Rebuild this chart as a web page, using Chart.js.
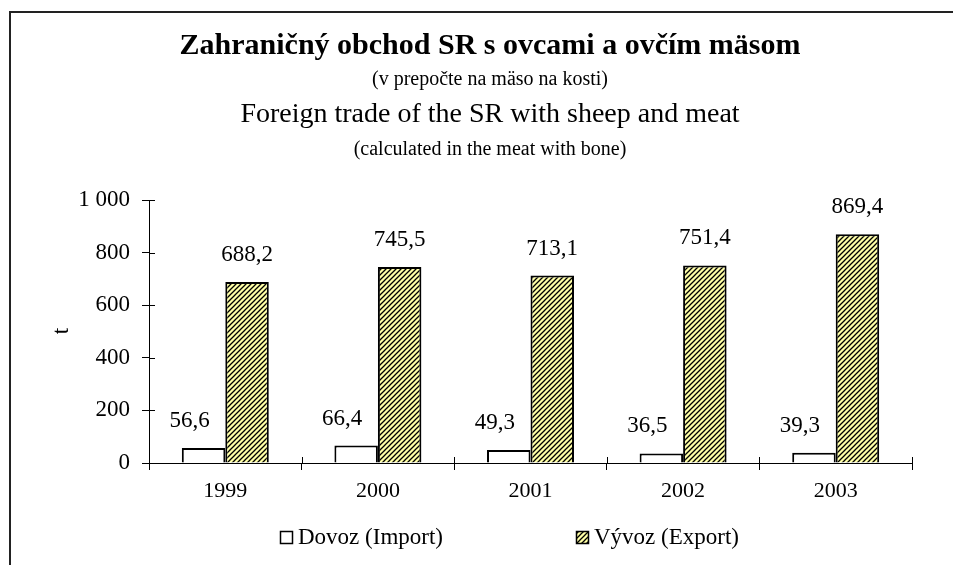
<!DOCTYPE html>
<html>
<head>
<meta charset="utf-8">
<script src="https://cdn.jsdelivr.net/npm/chart.js@4/dist/chart.umd.min.js"></script>
<style>
  html, body { margin: 0; padding: 0; background: #fff; }
  #wrap { position: relative; width: 953px; height: 565px; }
</style>
</head>
<body>
<div id="wrap"><canvas id="chart" width="953" height="565"></canvas></div>
<script>
var years = ['1999', '2000', '2001', '2002', '2003'];
var importVals = [56.6, 66.4, 49.3, 36.5, 39.3];
var exportVals = [688.2, 745.5, 713.1, 751.4, 869.4];
var seriesNames = ['Dovoz (Import)', 'Vývoz (Export)'];
var yTicks = [0, 200, 400, 600, 800, 1000];
var titleLines = [
    'Zahraničný obchod SR s ovcami a ovčím mäsom',
    '(v prepočte na mäso na kosti)',
    'Foreign trade of the SR with sheep and meat',
    '(calculated in the meat with bone)'
];

var SERIF = '"Liberation Serif", "Times New Roman", serif';

function fmtNum(v) {
    return v.toFixed(1).replace('.', ',');
}
function fmtTick(v) {
    return v.toString().replace(/\B(?=(\d{3})+(?!\d))/g, ' ');
}

// diagonal hatch for export bars
function makeHatch() {
    var c = document.createElement('canvas');
    c.width = 5; c.height = 5;
    var x = c.getContext('2d');
    x.fillStyle = '#ffffa6';
    x.fillRect(0, 0, 5, 5);
    x.strokeStyle = '#000';
    x.lineWidth = 1.3;
    x.beginPath();
    x.moveTo(-1, 6); x.lineTo(6, -1);
    x.moveTo(-1, 1); x.lineTo(1, -1);
    x.moveTo(4, 6); x.lineTo(6, 4);
    x.stroke();
    return x.createPattern(c, 'repeat');
}
var ctx = document.getElementById('chart').getContext('2d');
var hatch = makeHatch();

// frame, titles, axis title, legend, labels
var decorPlugin = {
    id: 'decor',
    beforeDraw: function(chart) {
        var c = chart.ctx;
        c.save();
        c.fillStyle = '#fff';
        c.fillRect(0, 0, chart.width, chart.height);
        c.strokeStyle = '#222';
        c.lineWidth = 2;
        c.beginPath();
        c.moveTo(10, chart.height);
        c.lineTo(10, 12);
        c.lineTo(chart.width, 12);
        c.stroke();
        c.restore();
    },
    afterDraw: function(chart) {
        var c = chart.ctx;
        var cx = 490;
        c.save();
        c.fillStyle = '#000';
        c.textAlign = 'center';
        c.textBaseline = 'middle';
        c.font = 'bold 30px ' + SERIF;
        c.fillText(titleLines[0], cx, 46);
        c.font = '20px ' + SERIF;
        c.fillText(titleLines[1], cx, 80);
        c.font = '28px ' + SERIF;
        c.fillText(titleLines[2], cx, 115);
        c.font = '20px ' + SERIF;
        c.fillText(titleLines[3], cx, 150);

        // y axis title
        c.save();
        c.translate(62, 331);
        c.rotate(-Math.PI / 2);
        c.font = '23px ' + SERIF;
        c.fillText('t', 0, 0);
        c.restore();

        // tick marks crossing into the plot
        var area = chart.chartArea;
        var ys = chart.scales.y;
        c.strokeStyle = '#000';
        c.lineWidth = 1;
        c.beginPath();
        yTicks.forEach(function(v) {
            var py = Math.round(ys.getPixelForValue(v)) + 0.5;
            c.moveTo(area.left, py);
            c.lineTo(area.left + 6, py);
        });
        var step = (area.right - area.left) / years.length;
        for (var i = 0; i <= years.length; i++) {
            var px = Math.round(area.left + i * step) + 0.5;
            c.moveTo(px, area.bottom);
            c.lineTo(px, area.bottom - 6);
        }
        c.stroke();

        // legend
        var items = [
            { x: 280, fill: '#fff', label: seriesNames[0] },
            { x: 576, fill: hatch, label: seriesNames[1] }
        ];
        var ly = 538;
        c.textAlign = 'left';
        c.font = '23px ' + SERIF;
        items.forEach(function(it) {
            c.fillStyle = it.fill;
            c.fillRect(it.x, ly - 7, 13, 13);
            c.strokeStyle = '#000';
            c.lineWidth = 1.5;
            c.strokeRect(it.x + 0.5, ly - 6.5, 12, 12);
            c.fillStyle = '#000';
            c.fillText(it.label, it.x + 18, ly);
        });
        c.restore();
    },
    afterDatasetsDraw: function(chart) {
        var c = chart.ctx;
        c.save();
        c.fillStyle = '#000';
        c.font = '23px ' + SERIF;
        c.textAlign = 'center';
        c.textBaseline = 'middle';
        chart.data.datasets.forEach(function(ds, di) {
            var meta = chart.getDatasetMeta(di);
            meta.data.forEach(function(bar, i) {
                var dx = di === 0 ? -14 : 0;
                c.fillText(fmtNum(ds.data[i]), bar.x + dx, bar.y - 27);
            });
        });
        c.restore();
    }
};

new Chart(ctx, {
    type: 'bar',
    data: {
        labels: years,
        datasets: [
            {
                label: seriesNames[0],
                data: importVals,
                backgroundColor: '#fff',
                borderColor: '#000',
                borderWidth: 2,
                categoryPercentage: 0.57,
                barPercentage: 1.0
            },
            {
                label: seriesNames[1],
                data: exportVals,
                backgroundColor: hatch,
                borderColor: '#000',
                borderWidth: 2,
                categoryPercentage: 0.57,
                barPercentage: 1.0
            }
        ]
    },
    options: {
        responsive: false,
        animation: false,
        layout: { padding: { top: 200, right: 41, bottom: 0, left: 0 } },
        plugins: {
            legend: { display: false },
            title: { display: false },
            tooltip: { enabled: false }
        },
        scales: {
            x: {
                grid: { display: true, drawOnChartArea: false, offset: true, tickLength: 7, color: '#000' },
                border: { display: true, color: '#000', width: 1 },
                ticks: { color: '#000', padding: 8, font: { family: SERIF, size: 22 } },
                afterFit: function(s) { s.height = 102; }
            },
            y: {
                min: 0,
                max: 1000,
                afterBuildTicks: function(s) { s.ticks = yTicks.map(function(v) { return { value: v }; }); },
                grid: { display: true, drawOnChartArea: false, tickLength: 7, color: '#000' },
                border: { display: true, color: '#000', width: 1 },
                ticks: {
                    color: '#000',
                    padding: 12,
                    font: { family: SERIF, size: 23 },
                    callback: function(v) { return fmtTick(v); }
                },
                afterFit: function(s) { s.width = 149; }
            }
        }
    },
    plugins: [decorPlugin]
});
</script>
</body>
</html>
